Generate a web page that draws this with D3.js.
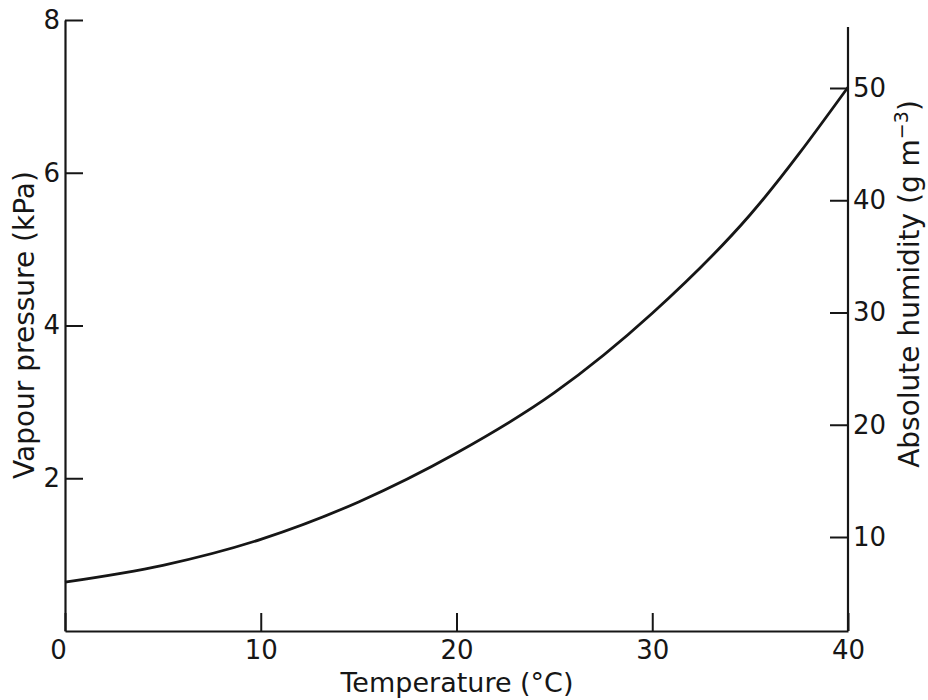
<!DOCTYPE html>
<html>
<head>
<meta charset="utf-8">
<script src="https://cdn.jsdelivr.net/npm/d3@7"></script>
<style>
  body { margin: 0; background: #fff; }
  svg { display: block; }
  text { font-family: "DejaVu Sans", sans-serif; fill: #161616; }
</style>
</head>
<body>
<svg id="chart" width="928" height="700"></svg>
<script>
// saturation curve
var temperatures = [0, 5, 10, 15, 20, 25, 30, 35, 40];
var vapourPressure = [0.64, 0.86, 1.20, 1.69, 2.33, 3.12, 4.16, 5.45, 7.12];

var tempTicks = [0, 10, 20, 30, 40];
var pressureTicks = [2, 4, 6, 8];
var humidityTicks = [10, 20, 30, 40, 50];

var ink = "#161616";
var svg = d3.select("#chart");

var x = d3.scaleLinear().domain([0, 40]).range([65, 848]);
var y = d3.scaleLinear().domain([0, 8]).range([631, 20]);
// right hand axis, placed from where its ticks sit in the figure
var yRight = d3.scaleLinear().domain([10, 50]).range([537, 88]);
var rightTop = 27;

function styleAxis(g) {
  g.selectAll("path.domain").attr("stroke", ink).attr("stroke-width", 2.2);
  g.selectAll(".tick line").attr("stroke", ink).attr("stroke-width", 2);
  g.selectAll(".tick text").attr("font-size", 26).attr("fill", ink);
}

// bottom axis, ticks point up into the plot
svg.append("g")
  .attr("transform", "translate(0," + y(0) + ")")
  .call(d3.axisBottom(x).tickValues(tempTicks).tickSizeInner(-18).tickSizeOuter(0).tickPadding(10))
  .call(styleAxis)
  .call(function(g) {
    g.selectAll(".tick").filter(function(d) { return d === 0; })
      .select("text").attr("dx", -7);
  });

// left axis
svg.append("g")
  .attr("transform", "translate(" + x(0) + ",0)")
  .call(d3.axisLeft(y).tickValues(pressureTicks).tickSizeInner(-18).tickSizeOuter(0).tickPadding(5))
  .call(styleAxis);

// right axis
var right = svg.append("g")
  .attr("transform", "translate(" + x(40) + ",0)")
  .call(d3.axisRight(yRight).tickValues(humidityTicks).tickSizeInner(-18).tickSizeOuter(0).tickPadding(5))
  .call(styleAxis);
right.select("path.domain").remove();
right.append("line")
  .attr("x1", 0).attr("x2", 0)
  .attr("y1", rightTop).attr("y2", y(0))
  .attr("stroke", ink).attr("stroke-width", 2.2);

// the curve
var line = d3.line()
  .x(function(d, i) { return x(temperatures[i]); })
  .y(function(d) { return y(d); })
  .curve(d3.curveMonotoneX);

svg.append("path")
  .datum(vapourPressure)
  .attr("d", line)
  .attr("fill", "none")
  .attr("stroke", ink)
  .attr("stroke-width", 2.8);

// titles
svg.append("text")
  .attr("x", 457)
  .attr("y", 692)
  .style("text-anchor", "middle")
  .style("font-size", "27px")
  .text("Temperature (°C)");

svg.append("text")
  .attr("transform", "translate(34,325) rotate(-90)")
  .style("text-anchor", "middle")
  .style("font-size", "28px")
  .text("Vapour pressure (kPa)");

var rt = svg.append("text")
  .attr("transform", "translate(919,284) rotate(-90)")
  .style("text-anchor", "middle")
  .style("font-size", "28px");
rt.append("tspan").text("Absolute humidity (g m");
rt.append("tspan").attr("dy", -11).style("font-size", "19px").text("−3");
rt.append("tspan").attr("dy", 11).text(")");
</script>
</body>
</html>
